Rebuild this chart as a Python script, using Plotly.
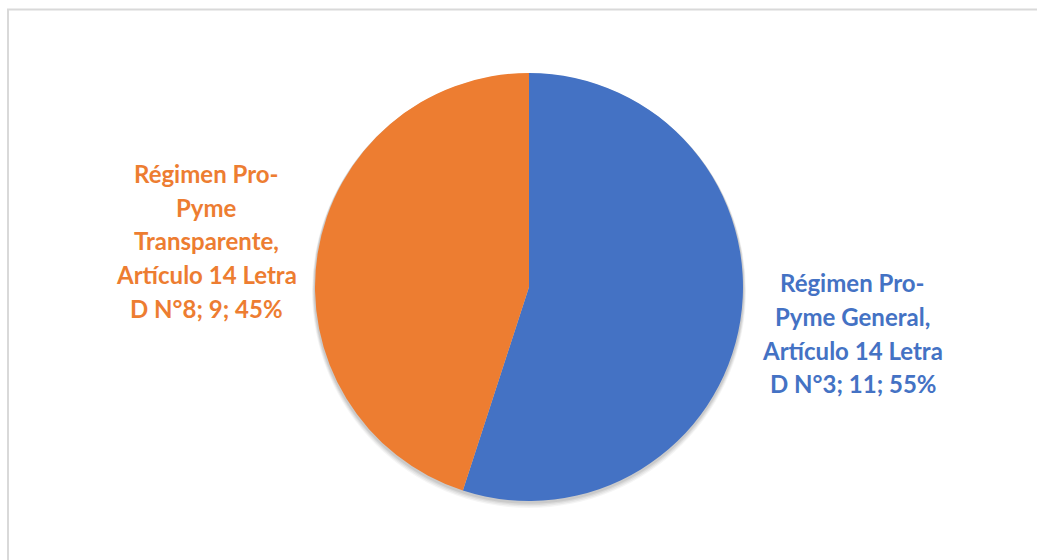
import plotly.graph_objects as go

# Data: firms by tax regime (count and share)
categories = [
    "Régimen Pro-\nPyme General,\nArtículo 14 Letra\nD N°3",
    "Régimen Pro-\nPyme\nTransparente,\nArtículo 14 Letra\nD N°8",
]
values = [11, 9]
colors = ["#4472C4", "#ED7D31"]

# Label anchor (paper coords, centre of the text block) for each slice
label_pos = [(0.8225, 0.405), (0.199, 0.570)]

W, H = 1037, 560
total = sum(values)

# Pie placement in pixels (centre and radius)
cx_px, cy_px, r_px = 529, 287, 214

fig = go.Figure(
    go.Pie(
        labels=[c.replace("-\n", "-").replace("\n", " ") for c in categories],
        values=values,
        marker=dict(colors=colors, line=dict(width=0)),
        sort=False,
        direction="clockwise",
        rotation=0,
        textinfo="none",
        hoverinfo="label+value+percent",
        domain=dict(
            x=[(cx_px - r_px) / W, (cx_px + r_px) / W],
            y=[(H - cy_px - r_px) / H, (H - cy_px + r_px) / H],
        ),
        showlegend=False,
    )
)

# Data labels: "<category>; <value>; <percent>%", one annotation per line
line_step = 33.6 / H
annotations = []
for cat, v, col, (cx, cy) in zip(categories, values, colors, label_pos):
    pct = round(100 * v / total)
    lines = (cat + f"; {v}; {pct}%").split("\n")
    n = len(lines)
    for i, ln in enumerate(lines):
        y = cy + ((n - 1) / 2 - i) * line_step
        annotations.append(
            dict(
                x=cx, y=y, xref="paper", yref="paper",
                text=ln, showarrow=False,
                xanchor="center", yanchor="middle",
                font=dict(family="Lato", size=24, color=col, weight="bold"),
            )
        )

# Soft drop shadow under the pie
shapes = []
for k, a in [(5, 0.04), (4, 0.05), (3, 0.06), (2, 0.07)]:
    r = r_px + k * 0.6
    dy = k * 0.8
    shapes.append(
        dict(
            type="circle", xref="paper", yref="paper",
            x0=(cx_px - r) / W, x1=(cx_px + r) / W,
            y0=(H - cy_px - dy - r) / H, y1=(H - cy_px - dy + r) / H,
            line=dict(width=0), fillcolor=f"rgba(0,0,0,{a})", layer="below",
        )
    )

# Chart-area border
shapes.append(
    dict(
        type="rect", xref="paper", yref="paper",
        x0=8 / W, x1=1.02, y0=-0.02, y1=(H - 9.5) / H,
        line=dict(color="#D9D9D9", width=2),
        fillcolor="rgba(0,0,0,0)", layer="below",
    )
)

fig.update_layout(
    width=W,
    height=H,
    margin=dict(l=0, r=0, t=0, b=0),
    paper_bgcolor="white",
    plot_bgcolor="white",
    annotations=annotations,
    shapes=shapes,
)

fig.write_html("out.html")
